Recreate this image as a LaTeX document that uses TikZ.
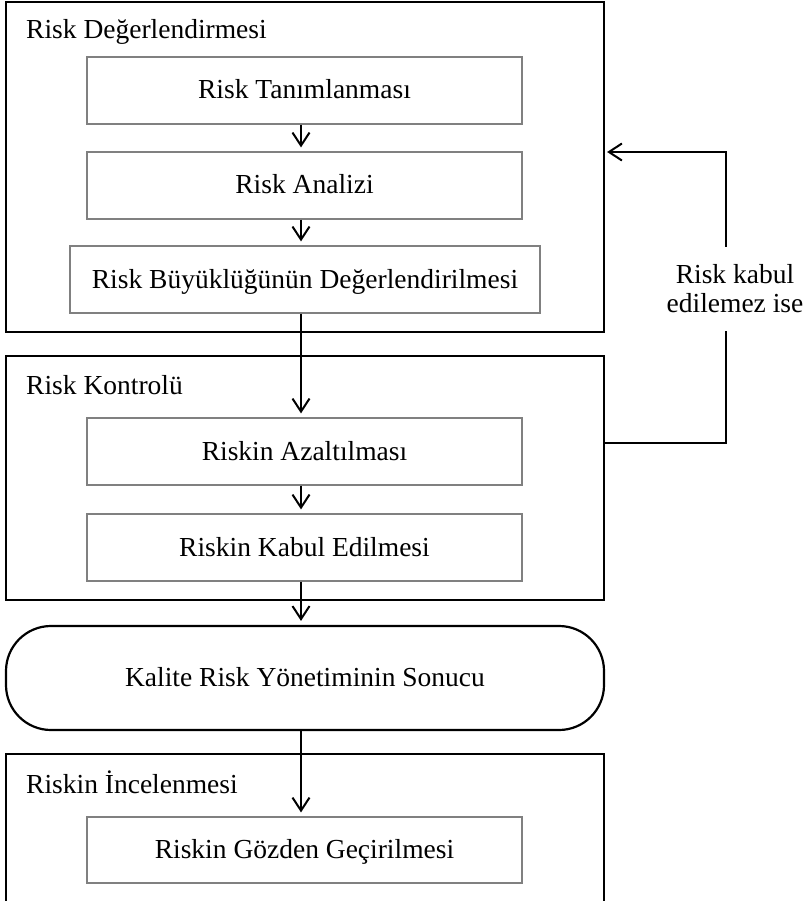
\documentclass[tikz,border=0pt]{standalone}
\usepackage{fontspec}
\setmainfont{Liberation Serif}
\usetikzlibrary{arrows.meta}
\definecolor{boxgray}{gray}{0.5}
\begin{document}
\begin{tikzpicture}[x=1pt,y=-1pt,
  outer/.style={draw=black, line width=2.2pt, inner sep=0pt},
  stepbox/.style={draw=boxgray, line width=1.2pt, minimum height=67pt, inner sep=0pt,
    text height=18pt, text depth=1pt, font=\fontsize{27.5}{33}\selectfont},
  grouptitle/.style={anchor=base west, inner sep=0pt, font=\fontsize{27.5}{33}\selectfont},
  arr/.style={draw=black, line width=2pt, -{Straight Barb[length=13pt,width=17pt]}, shorten >=4pt},
  conn/.style={draw=black, line width=2pt},
  lab/.style={align=center, inner xsep=0pt, inner ysep=18pt, font=\fontsize{27.5}{29}\selectfont}]
\useasboundingbox (0,0) rectangle (809,901);

% group 1
\node[outer, minimum width=598pt, minimum height=330pt] (g1) at (305,167) {};
\node[grouptitle] (t1) at (26,39) {Risk Değerlendirmesi};
\node[stepbox, minimum width=435pt] (a) at (304.5,90.5) {Risk Tanımlanması};
\node[stepbox, minimum width=435pt] (b) at (304.5,185.5) {Risk Analizi};
\node[stepbox, minimum width=470pt] (c) at (305,279.5) {Risk Büyüklüğünün Değerlendirilmesi};

% group 2
\node[outer, minimum width=598pt, minimum height=244pt] (g2) at (305,478) {};
\node[grouptitle] (t2) at (26,394) {Risk Kontrolü};
\node[stepbox, minimum width=435pt] (d) at (304.5,451.5) {Riskin Azaltılması};
\node[stepbox, minimum width=435pt] (e) at (304.5,547.5) {Riskin Kabul Edilmesi};

% result
\node[outer, rounded corners=45pt, minimum width=598pt, minimum height=104pt,
  text height=18pt, text depth=1pt, font=\fontsize{27.5}{33}\selectfont] (res) at (305,678) {Kalite Risk Yönetiminin Sonucu};

% group 3 (cut off at the bottom)
\node[inner sep=0pt, minimum width=598pt, minimum height=149pt] (g3) at (305,828.5) {};
\draw[outer] (g3.south west) |- (g3.north east) -- (g3.south east);
\node[grouptitle] (t3) at (26,793) {Riskin İncelenmesi};
\node[stepbox, minimum width=435pt, minimum height=66pt] (f) at (304.5,850) {Riskin Gözden Geçirilmesi};

% arrows
\draw[arr] ([xshift=-3.5pt]a.south) -- ([xshift=-3.5pt]b.north);
\draw[arr] ([xshift=-3.5pt]b.south) -- ([xshift=-3.5pt]c.north -| a.south);
\draw[arr] ([xshift=-3.5pt]c.south -| a.south) -- ([xshift=-3.5pt]d.north);
\draw[arr] ([xshift=-3.5pt]d.south) -- ([xshift=-3.5pt]e.north);
\draw[arr] ([xshift=-3.5pt]e.south) -- ([xshift=-3.5pt]res.north -| e.south);
\draw[arr] ([xshift=-3.5pt]res.south -| f.north) -- ([xshift=-3.5pt]f.north);

% feedback loop
\coordinate (h1) at (726,443);
\coordinate (h2) at (726,152);
\node[lab] (lab) at (735,289) {Risk kabul\\edilemez ise};
\draw[conn] (g2.east |- h1) -- (h1) -- (lab.south -| h1);
\draw[arr, shorten >=2pt] (lab.north -| h1) -- (h2) -- (g1.east |- h2);
\end{tikzpicture}
\end{document}
